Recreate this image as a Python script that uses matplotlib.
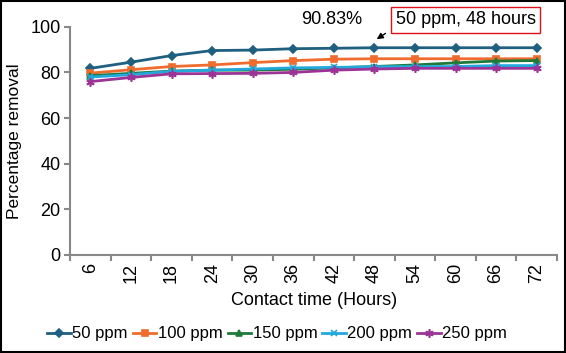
import numpy as np
import matplotlib
matplotlib.use('Agg')
from matplotlib import pyplot as plt
from matplotlib.patches import Rectangle

plt.rcParams['font.family'] = ['Liberation Sans', 'DejaVu Sans']

hours = ['6', '12', '18', '24', '30', '36', '42', '48', '54', '60', '66', '72']
p50 = [81.8, 84.5, 87.4, 89.6, 89.8, 90.4, 90.6, 90.83, 90.83, 90.83, 90.83, 90.83]
p100 = [79.7, 81.2, 82.6, 83.3, 84.3, 85.2, 85.8, 86.0, 86.0, 86.0, 86.0, 86.0]
p150 = [78.6, 79.6, 80.6, 81.0, 81.0, 81.4, 82.0, 82.6, 83.3, 84.2, 85.0, 85.2]
p200 = [78.0, 79.0, 80.5, 81.0, 81.5, 82.0, 82.2, 82.5, 82.6, 82.6, 83.0, 83.0]
p250 = [76.0, 77.8, 79.4, 79.5, 79.6, 80.0, 81.0, 81.5, 81.8, 81.8, 81.8, 81.8]

series = [
    ('50 ppm', p50, '#1f5f80', 'D', 4),
    ('100 ppm', p100, '#ef6c2e', 's', 5),
    ('150 ppm', p150, '#1f7a3a', '^', 5),
    ('200 ppm', p200, '#22a8dc', 'x', 5),
    ('250 ppm', p250, '#9b3496', (6, 2, 0), 6),
]

fs = 13
fig = plt.figure(figsize=(5.66, 3.53), dpi=100)
ax = fig.add_axes([0.124, 0.278, 0.86, 0.646])
x = np.arange(len(hours))
for name, vals, col, mk, ms in series:
    ax.plot(x, vals, color=col, lw=2, marker=mk, ms=ms, mew=1.2, label=name)

ax.set_xlim(-0.5, len(hours) - 0.5)
ax.set_ylim(0, 100)
ax.set_yticks(np.arange(0, 101, 20))
ax.set_xticks(np.arange(-0.5, len(hours)), minor=False)
ax.set_xticklabels([])
ax.set_xticks(x, minor=True)
ax.set_xticklabels(hours, minor=True, rotation=90, fontsize=fs)
ax.tick_params(axis='x', which='minor', length=0, pad=6)
ax.tick_params(axis='x', which='major', length=4, color='#888888', width=1.5)
ax.tick_params(axis='y', length=4, color='#888888', width=1.5, labelsize=fs, pad=3)
for s in ['top', 'right']:
    ax.spines[s].set_visible(False)
for s in ['left', 'bottom']:
    ax.spines[s].set_color('#888888')
    ax.spines[s].set_linewidth(1.5)

ax.set_xlabel('Contact time (Hours)', fontsize=fs, labelpad=6)
ax.set_ylabel('Percentage removal', fontsize=12.5, labelpad=6)

ax.text(5.95, 103, '90.83%', fontsize=fs, ha='center', va='center')
ax.text(9.25, 103, '50 ppm, 48 hours', fontsize=fs, ha='center', va='center',
        bbox=dict(boxstyle='square,pad=0.25', fc='white', ec='#e0101a', lw=1))
ax.annotate('', xy=(7.0, 93.9), xytext=(7.33, 97.8), annotation_clip=False,
            arrowprops=dict(arrowstyle='-|>', color='black', lw=1, mutation_scale=9))

fig.legend(*ax.get_legend_handles_labels(), loc='center', bbox_to_anchor=(0.49, 0.054),
           ncol=5, frameon=False, fontsize=12, handlelength=1.4, handletextpad=0.1,
           columnspacing=0.3, borderaxespad=0)

fig.patches.append(Rectangle((0.002, 0.003), 0.996, 0.994, transform=fig.transFigure,
                             fill=False, ec='black', lw=1.5))
fig.savefig('out.png', dpi=100)
